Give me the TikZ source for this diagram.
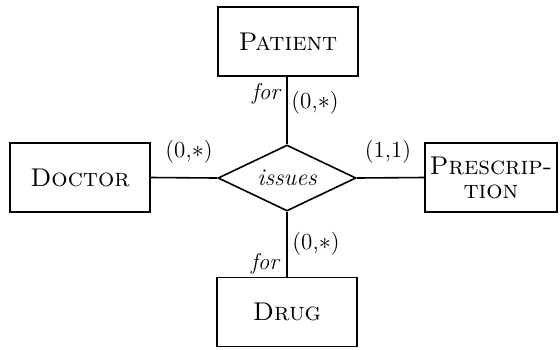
\documentclass[tikz,border=0pt]{standalone}
\usetikzlibrary{shapes.geometric}
\begin{document}
\begin{tikzpicture}[x=0.5pt,y=-0.5pt,
  entity/.style={draw,line width=0.8pt,minimum width=70pt,minimum height=34.5pt,inner sep=1pt,align=center,font=\fontsize{12.8}{13}\selectfont},
  relation/.style={draw,line width=0.8pt,diamond,minimum width=69pt,minimum height=33pt,inner sep=0pt,aspect=2.1,font=\fontsize{12}{13}\selectfont\itshape},
  conn/.style={line width=0.8pt},
  lbl/.style={font=\fontsize{11.5}{12}\selectfont,inner sep=0pt},
  role/.style={lbl,font=\fontsize{11.5}{12}\selectfont\itshape}]
\useasboundingbox (0,0) rectangle (560,349);
% relationship
\node[relation] (iss) at (287,178) {issues};
% entities
\node[entity] (pat) at (288,41.5) {\textsc{Patient}};
\node[entity] (doc) at (80,177.5) {\textsc{Doctor}};
\node[entity,minimum width=66pt] (pre) at (491,177.5) {\textsc{Prescrip-}\\[-1pt]\textsc{tion}};
\node[entity] (drg) at (287,312) {\textsc{Drug}};
% connectors
\draw[conn] (iss.north) -- (iss.north |- pat.south);
\draw[conn] (iss.south) -- (iss.south |- drg.north);
\draw[conn] (doc.east) -- (iss.west);
\draw[conn] (iss.east) -- (pre.west);
% cardinalities and roles
\node[lbl] (c1) at (315,103) {(0,$*$)};
\node[role] (r1) at (266,94) {for};
\node[lbl] (c2) at (189,152) {(0,$*$)};
\node[lbl] (c3) at (388,152) {(1,1)};
\node[lbl] (c4) at (316,244) {(0,$*$)};
\node[role] (r2) at (265,264) {for};
\end{tikzpicture}
\end{document}
